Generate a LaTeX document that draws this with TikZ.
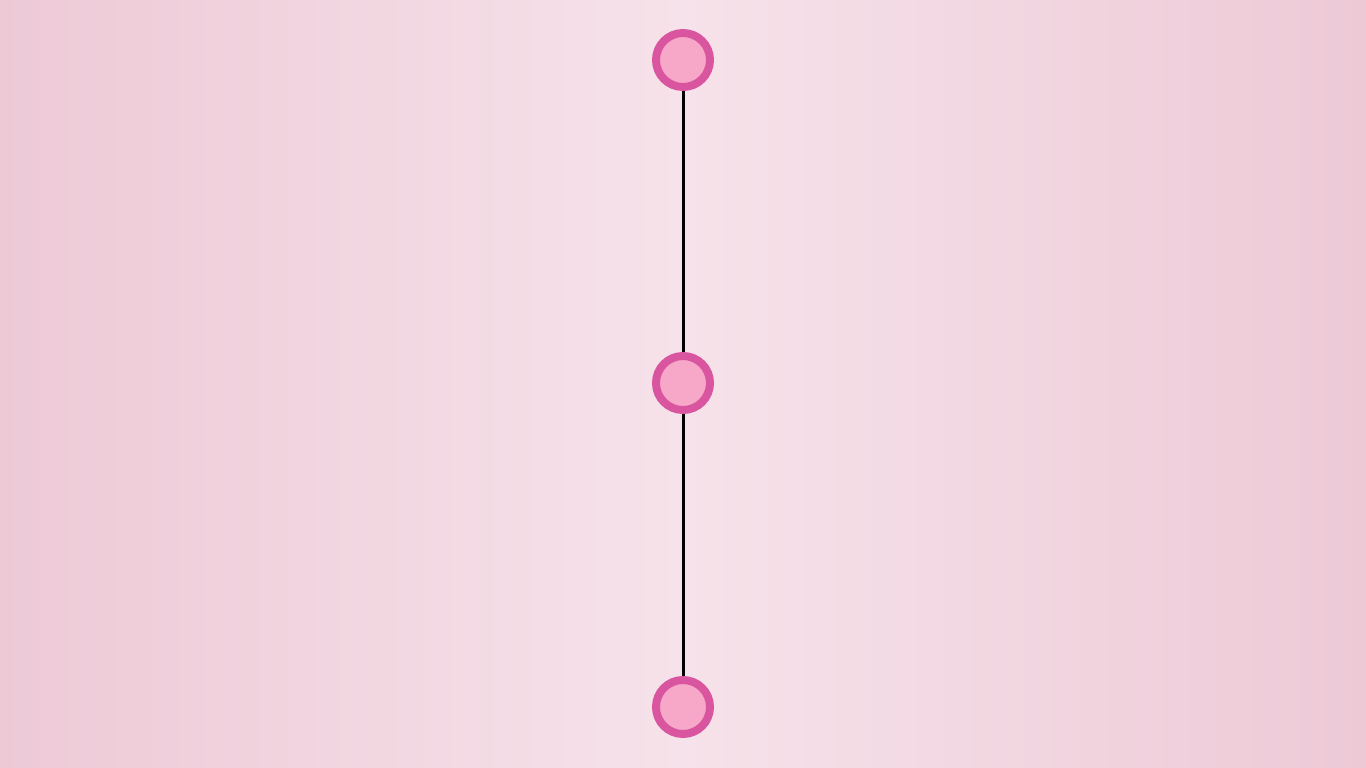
\documentclass[tikz,border=0pt]{standalone}
\definecolor{bgA}{HTML}{EDC9D6}
\definecolor{bgB}{HTML}{F6E2EA}
\definecolor{ring}{HTML}{D9559F}
\definecolor{dotfill}{HTML}{F7A8C8}
\tikzset{
  dot/.style={circle, draw=ring, fill=dotfill, line width=8pt, minimum size=54pt, inner sep=0pt},
  link/.style={draw=black, line width=3pt}
}
\begin{document}
\begin{tikzpicture}[x=1pt,y=-1pt]
\useasboundingbox (0,0) rectangle (1366,768);
\shade[left color=bgA, right color=bgB] (0,0) rectangle (683,768);
\shade[left color=bgB, right color=bgA] (683,0) rectangle (1366,768);
\node[dot] (a) at (683,60) {};
\node[dot] (b) at (683,383) {};
\node[dot] (c) at (683,707) {};
\begin{scope}[on background layer/.try]
\end{scope}
\draw[link] (a.south) -- (b.north);
\draw[link] (b.south) -- (c.north);
\end{tikzpicture}
\end{document}
